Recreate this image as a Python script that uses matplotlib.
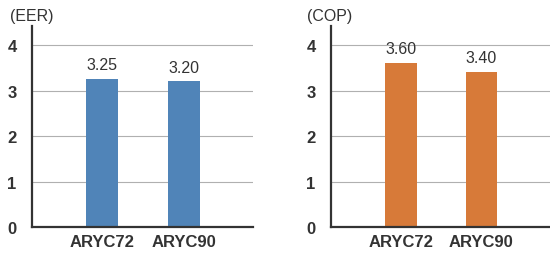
import matplotlib
matplotlib.use("Agg")
import matplotlib.pyplot as plt

categories = ["ARYC72", "ARYC90"]
eer_values = [3.25, 3.20]
cop_values = [3.60, 3.40]
eer_labels = ["3.25", "3.20"]
cop_labels = ["3.60", "3.40"]
yticks = [0, 1, 2, 3, 4]

plt.rcParams['font.family'] = ['Liberation Sans', 'DejaVu Sans']

fig = plt.figure(figsize=(5.5, 2.55), dpi=100)

def panel(rect, values, labels, color, xlim):
    ax = fig.add_axes(rect)
    x = list(range(len(categories)))
    ax.bar(x, values, width=0.39, color=color, zorder=2)
    ax.set_xlim(*xlim)
    ax.set_ylim(0, 4.42)
    ax.set_yticks(yticks)
    ax.set_yticklabels([str(t) for t in yticks], fontsize=12, fontweight='bold', color='#333333')
    ax.set_xticks(x)
    ax.set_xticklabels(categories, fontsize=12, fontweight='bold', color='#333333')
    ax.tick_params(axis='both', length=0)
    ax.tick_params(axis='y', pad=11)
    ax.tick_params(axis='x', pad=5)
    for t in yticks[1:]:
        ax.axhline(t, color='#b0b0b0', lw=0.8, zorder=1)
    for s in ['top', 'right']:
        ax.spines[s].set_visible(False)
    for s in ['left', 'bottom']:
        ax.spines[s].set_color('#333333')
        ax.spines[s].set_linewidth(1.6)
        ax.spines[s].set_zorder(3)
    for xi, v, lab in zip(x, values, labels):
        ax.annotate(lab, (xi, v), xytext=(0, 5), textcoords='offset points',
                    ha='center', va='bottom', fontsize=11.5, color='#333333')
    return ax

ax1 = panel([32/550, 1-228/255, (253-32)/550, (228-27)/255], eer_values, eer_labels,
            '#5084b8', (-0.86, 1.85))
ax2 = panel([331/550, 1-228/255, (550-331)/550, (228-27)/255], cop_values, cop_labels,
            '#d77a39', (-0.875, 1.86))

fig.text(10/550, 1-17/255, '(EER)', fontsize=11.5, color='#333333', ha='left', va='center')
fig.text(307/550, 1-17/255, '(COP)', fontsize=11.5, color='#333333', ha='left', va='center')

fig.savefig('out.png', dpi=100)
